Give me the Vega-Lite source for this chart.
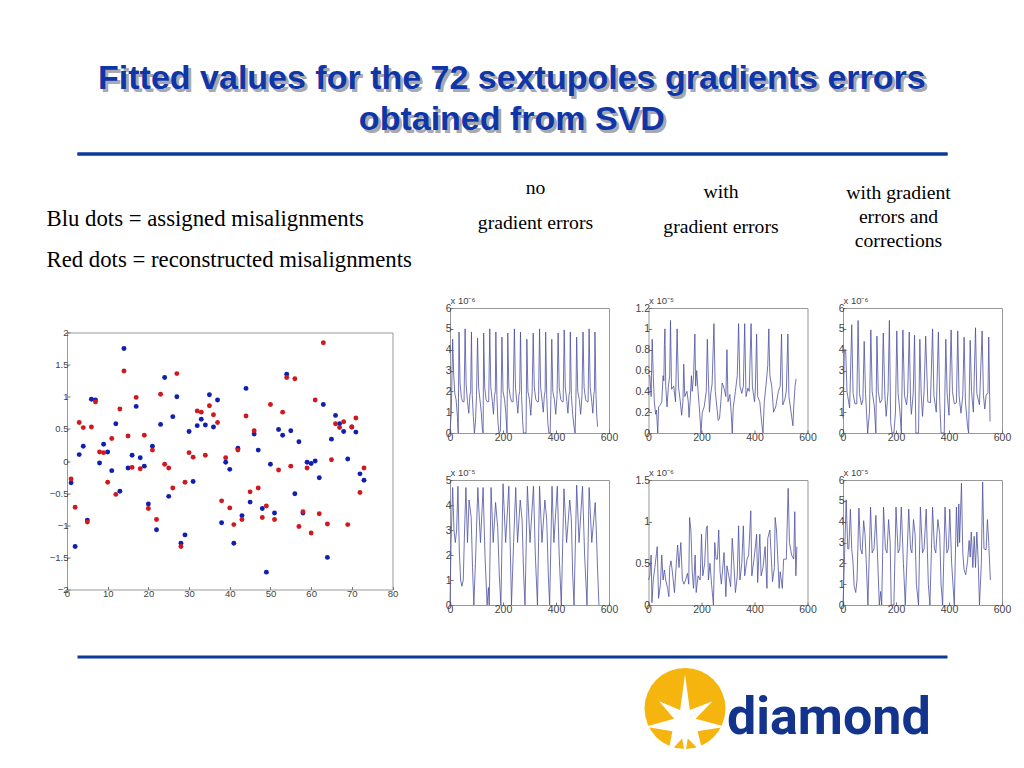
{"$schema":"https://vega.github.io/schema/vega-lite/v6.json","background":"white","padding":{"left":46,"top":61.5,"right":0,"bottom":0},"spacing":40,
"title":{"text":["Fitted values for the 72 sextupoles gradients errors","obtained from SVD"],"anchor":"middle","align":"center","dx":-17,"fontSize":34,"font":"Liberation Sans","fontWeight":"bold","color":"#0f36a8","lineHeight":41,"offset":-72},
"config":{"axis":{"grid":false,"domain":false,"tickSize":-3,"tickColor":"#777","labelColor":"#444","labelFont":"Liberation Sans","labelFontSize":10.5,"labelPadding":2,"labelFlush":false,"labelOverlap":false,"title":null,"format":"~f"},"view":{"stroke":"#999"},"title":{"font":"Liberation Serif","fontWeight":"normal","color":"#000","fontSize":19.7}},
"datasets":{
"dots":[{"i":1,"v":-0.34,"s":"assigned"},{"i":2,"v":-1.33,"s":"assigned"},{"i":3,"v":0.1,"s":"assigned"},{"i":4,"v":0.23,"s":"assigned"},{"i":5,"v":-0.92,"s":"assigned"},{"i":6,"v":0.96,"s":"assigned"},{"i":7,"v":0.95,"s":"assigned"},{"i":8,"v":-0.03,"s":"assigned"},{"i":9,"v":0.26,"s":"assigned"},{"i":10,"v":0.14,"s":"assigned"},{"i":11,"v":-0.15,"s":"assigned"},{"i":12,"v":0.58,"s":"assigned"},{"i":13,"v":-0.47,"s":"assigned"},{"i":14,"v":1.75,"s":"assigned"},{"i":15,"v":-0.11,"s":"assigned"},{"i":16,"v":0.09,"s":"assigned"},{"i":17,"v":0.85,"s":"assigned"},{"i":18,"v":0.05,"s":"assigned"},{"i":19,"v":-0.08,"s":"assigned"},{"i":20,"v":-0.67,"s":"assigned"},{"i":21,"v":0.23,"s":"assigned"},{"i":22,"v":-1.07,"s":"assigned"},{"i":23,"v":0.57,"s":"assigned"},{"i":24,"v":1.3,"s":"assigned"},{"i":25,"v":-0.55,"s":"assigned"},{"i":26,"v":0.69,"s":"assigned"},{"i":27,"v":1.0,"s":"assigned"},{"i":28,"v":-1.28,"s":"assigned"},{"i":29,"v":-1.15,"s":"assigned"},{"i":30,"v":0.46,"s":"assigned"},{"i":31,"v":-0.32,"s":"assigned"},{"i":32,"v":0.55,"s":"assigned"},{"i":33,"v":0.65,"s":"assigned"},{"i":34,"v":0.56,"s":"assigned"},{"i":35,"v":1.03,"s":"assigned"},{"i":36,"v":0.53,"s":"assigned"},{"i":37,"v":0.95,"s":"assigned"},{"i":38,"v":-0.96,"s":"assigned"},{"i":39,"v":-0.02,"s":"assigned"},{"i":40,"v":-0.13,"s":"assigned"},{"i":41,"v":-1.28,"s":"assigned"},{"i":42,"v":0.2,"s":"assigned"},{"i":43,"v":-0.85,"s":"assigned"},{"i":44,"v":1.13,"s":"assigned"},{"i":45,"v":-0.64,"s":"assigned"},{"i":46,"v":0.42,"s":"assigned"},{"i":47,"v":0.17,"s":"assigned"},{"i":48,"v":-0.74,"s":"assigned"},{"i":49,"v":-1.73,"s":"assigned"},{"i":50,"v":-0.05,"s":"assigned"},{"i":51,"v":-0.81,"s":"assigned"},{"i":52,"v":0.49,"s":"assigned"},{"i":53,"v":0.4,"s":"assigned"},{"i":54,"v":1.35,"s":"assigned"},{"i":55,"v":0.47,"s":"assigned"},{"i":56,"v":-0.51,"s":"assigned"},{"i":57,"v":0.3,"s":"assigned"},{"i":58,"v":-0.81,"s":"assigned"},{"i":59,"v":-0.02,"s":"assigned"},{"i":60,"v":-0.04,"s":"assigned"},{"i":61,"v":0,"s":"assigned"},{"i":62,"v":-0.26,"s":"assigned"},{"i":63,"v":0.88,"s":"assigned"},{"i":64,"v":-1.5,"s":"assigned"},{"i":65,"v":0.34,"s":"assigned"},{"i":66,"v":0.71,"s":"assigned"},{"i":67,"v":0.58,"s":"assigned"},{"i":68,"v":0.46,"s":"assigned"},{"i":69,"v":0.03,"s":"assigned"},{"i":70,"v":0.53,"s":"assigned"},{"i":71,"v":0.45,"s":"assigned"},{"i":72,"v":-0.2,"s":"assigned"},{"i":73,"v":-0.3,"s":"assigned"},
{"i":1,"v":-0.28,"s":"reconstructed"},{"i":2,"v":-0.72,"s":"reconstructed"},{"i":3,"v":0.6,"s":"reconstructed"},{"i":4,"v":0.52,"s":"reconstructed"},{"i":5,"v":-0.95,"s":"reconstructed"},{"i":6,"v":0.53,"s":"reconstructed"},{"i":7,"v":0.92,"s":"reconstructed"},{"i":8,"v":0.14,"s":"reconstructed"},{"i":9,"v":0.13,"s":"reconstructed"},{"i":10,"v":-0.33,"s":"reconstructed"},{"i":11,"v":0.35,"s":"reconstructed"},{"i":12,"v":-0.52,"s":"reconstructed"},{"i":13,"v":0.81,"s":"reconstructed"},{"i":14,"v":1.4,"s":"reconstructed"},{"i":15,"v":0.39,"s":"reconstructed"},{"i":16,"v":-0.1,"s":"reconstructed"},{"i":17,"v":0.99,"s":"reconstructed"},{"i":18,"v":-0.12,"s":"reconstructed"},{"i":19,"v":0.4,"s":"reconstructed"},{"i":20,"v":-0.74,"s":"reconstructed"},{"i":21,"v":0.17,"s":"reconstructed"},{"i":22,"v":-0.91,"s":"reconstructed"},{"i":23,"v":1.04,"s":"reconstructed"},{"i":24,"v":-0.05,"s":"reconstructed"},{"i":25,"v":-0.11,"s":"reconstructed"},{"i":26,"v":-0.42,"s":"reconstructed"},{"i":27,"v":1.36,"s":"reconstructed"},{"i":28,"v":-1.33,"s":"reconstructed"},{"i":29,"v":-0.33,"s":"reconstructed"},{"i":30,"v":0.13,"s":"reconstructed"},{"i":31,"v":0.06,"s":"reconstructed"},{"i":32,"v":0.78,"s":"reconstructed"},{"i":33,"v":0.76,"s":"reconstructed"},{"i":34,"v":0.09,"s":"reconstructed"},{"i":35,"v":0.86,"s":"reconstructed"},{"i":36,"v":0.72,"s":"reconstructed"},{"i":37,"v":0.6,"s":"reconstructed"},{"i":38,"v":-0.62,"s":"reconstructed"},{"i":39,"v":0.05,"s":"reconstructed"},{"i":40,"v":-0.73,"s":"reconstructed"},{"i":41,"v":-0.99,"s":"reconstructed"},{"i":42,"v":0.17,"s":"reconstructed"},{"i":43,"v":-0.91,"s":"reconstructed"},{"i":44,"v":0.7,"s":"reconstructed"},{"i":45,"v":-0.48,"s":"reconstructed"},{"i":46,"v":0.47,"s":"reconstructed"},{"i":47,"v":-0.42,"s":"reconstructed"},{"i":48,"v":-0.88,"s":"reconstructed"},{"i":49,"v":-0.7,"s":"reconstructed"},{"i":50,"v":0.88,"s":"reconstructed"},{"i":51,"v":-0.91,"s":"reconstructed"},{"i":52,"v":-0.14,"s":"reconstructed"},{"i":53,"v":0.76,"s":"reconstructed"},{"i":54,"v":1.3,"s":"reconstructed"},{"i":55,"v":-0.08,"s":"reconstructed"},{"i":56,"v":1.28,"s":"reconstructed"},{"i":57,"v":-1.02,"s":"reconstructed"},{"i":58,"v":-0.79,"s":"reconstructed"},{"i":59,"v":-0.11,"s":"reconstructed"},{"i":60,"v":-1.12,"s":"reconstructed"},{"i":61,"v":0.95,"s":"reconstructed"},{"i":62,"v":-0.82,"s":"reconstructed"},{"i":63,"v":1.84,"s":"reconstructed"},{"i":64,"v":-0.98,"s":"reconstructed"},{"i":65,"v":0.02,"s":"reconstructed"},{"i":66,"v":0.58,"s":"reconstructed"},{"i":67,"v":0.52,"s":"reconstructed"},{"i":68,"v":0.61,"s":"reconstructed"},{"i":69,"v":-0.99,"s":"reconstructed"},{"i":70,"v":0.53,"s":"reconstructed"},{"i":71,"v":0.67,"s":"reconstructed"},{"i":72,"v":-0.49,"s":"reconstructed"},{"i":73,"v":-0.11,"s":"reconstructed"}],
"a1":[{"x":0,"y":0},{"x":5,"y":1},{"x":10,"y":4.5},{"x":14,"y":2.8},{"x":18,"y":1.9},{"x":23,"y":1.6},{"x":28,"y":0.8},{"x":31,"y":0},{"x":34,"y":4.85},{"x":38,"y":2.4},{"x":43,"y":1.7},{"x":48,"y":1.5},{"x":53,"y":1.5},{"x":57,"y":5},{"x":61,"y":2.3},{"x":66,"y":1.5},{"x":71,"y":0.95},{"x":75,"y":1.8},{"x":78,"y":2},{"x":81,"y":4.85},{"x":84,"y":1.8},{"x":88,"y":0.8},{"x":92,"y":0},{"x":96,"y":0.5},{"x":100,"y":1.8},{"x":104,"y":4.55},{"x":108,"y":2.2},{"x":113,"y":1.6},{"x":118,"y":1},{"x":122,"y":0.2},{"x":125,"y":0},{"x":127,"y":4.8},{"x":131,"y":2.2},{"x":136,"y":1.6},{"x":141,"y":1.5},{"x":146,"y":1.5},{"x":150,"y":5},{"x":154,"y":2.2},{"x":160,"y":1.5},{"x":164,"y":0.9},{"x":168,"y":1.8},{"x":171,"y":2},{"x":173,"y":4.85},{"x":177,"y":1.8},{"x":181,"y":0.5},{"x":185,"y":0},{"x":190,"y":0.1},{"x":193,"y":1.8},{"x":196,"y":4.6},{"x":200,"y":2},{"x":206,"y":1.6},{"x":211,"y":0.9},{"x":215,"y":0},{"x":218,"y":4.8},{"x":222,"y":2.2},{"x":228,"y":1.7},{"x":233,"y":1.5},{"x":238,"y":1.5},{"x":243,"y":5},{"x":247,"y":2.2},{"x":252,"y":1.5},{"x":256,"y":0.95},{"x":260,"y":1.8},{"x":263,"y":2},{"x":266,"y":4.85},{"x":270,"y":1.8},{"x":274,"y":0.6},{"x":277,"y":0},{"x":287,"y":0},{"x":290,"y":4.5},{"x":294,"y":2},{"x":300,"y":1.6},{"x":305,"y":0.85},{"x":310,"y":2},{"x":314,"y":4.8},{"x":318,"y":2.2},{"x":324,"y":1.6},{"x":329,"y":1.5},{"x":334,"y":1.5},{"x":338,"y":5},{"x":342,"y":2.2},{"x":348,"y":1.5},{"x":352,"y":1},{"x":356,"y":1.8},{"x":359,"y":2},{"x":361,"y":4.85},{"x":365,"y":1.8},{"x":369,"y":0.5},{"x":373,"y":0},{"x":378,"y":0},{"x":381,"y":1.8},{"x":384,"y":4.5},{"x":388,"y":2},{"x":394,"y":1.6},{"x":399,"y":0.9},{"x":404,"y":1.8},{"x":408,"y":4.8},{"x":412,"y":2.2},{"x":418,"y":1.6},{"x":423,"y":1.5},{"x":427,"y":1.5},{"x":431,"y":4.95},{"x":435,"y":2.2},{"x":441,"y":1.5},{"x":445,"y":0.95},{"x":449,"y":1.8},{"x":452,"y":2},{"x":454,"y":4.85},{"x":458,"y":1.8},{"x":463,"y":0.9},{"x":468,"y":0.3},{"x":472,"y":0},{"x":475,"y":1.5},{"x":478,"y":4.6},{"x":482,"y":2},{"x":488,"y":1.6},{"x":493,"y":0.9},{"x":498,"y":1.8},{"x":502,"y":4.85},{"x":506,"y":2.2},{"x":512,"y":1.6},{"x":517,"y":1.5},{"x":521,"y":1.5},{"x":525,"y":5},{"x":529,"y":2.2},{"x":535,"y":1.5},{"x":539,"y":0.95},{"x":543,"y":1.9},{"x":545,"y":2},{"x":547,"y":4.85},{"x":551,"y":1.8},{"x":554,"y":0.8},{"x":557,"y":0.3}],
"a2":[{"x":0,"y":0},{"x":4,"y":2.5},{"x":10,"y":4.7},{"x":15,"y":3},{"x":20,"y":2.5},{"x":25,"y":3},{"x":30,"y":4.75},{"x":35,"y":2.2},{"x":40,"y":1},{"x":45,"y":0.75},{"x":50,"y":1},{"x":55,"y":3},{"x":60,"y":4.7},{"x":66,"y":2.5},{"x":72,"y":4.2},{"x":80,"y":3.5},{"x":85,"y":1.5},{"x":90,"y":0},{"x":97,"y":2},{"x":105,"y":4.7},{"x":115,"y":2.5},{"x":125,"y":4.7},{"x":132,"y":2},{"x":140,"y":0},{"x":145,"y":0.7},{"x":148,"y":0},{"x":155,"y":4.7},{"x":163,"y":2.5},{"x":172,"y":4.1},{"x":180,"y":3.1},{"x":186,"y":1.2},{"x":192,"y":0},{"x":200,"y":4.85},{"x":210,"y":2.5},{"x":222,"y":4.75},{"x":228,"y":2},{"x":232,"y":0},{"x":240,"y":2.5},{"x":248,"y":4.7},{"x":255,"y":2.5},{"x":265,"y":4.2},{"x":272,"y":3.4},{"x":278,"y":1.2},{"x":283,"y":0},{"x":292,"y":4.75},{"x":302,"y":2.5},{"x":315,"y":4.75},{"x":322,"y":2},{"x":330,"y":0},{"x":338,"y":4.75},{"x":347,"y":2.5},{"x":358,"y":4.2},{"x":365,"y":3.4},{"x":371,"y":1.2},{"x":376,"y":0},{"x":385,"y":4.75},{"x":392,"y":2.5},{"x":405,"y":4.75},{"x":412,"y":2},{"x":420,"y":0},{"x":430,"y":4.65},{"x":440,"y":2.5},{"x":452,"y":4.2},{"x":458,"y":3.4},{"x":463,"y":1.2},{"x":468,"y":0},{"x":478,"y":4.8},{"x":487,"y":2.5},{"x":500,"y":4.75},{"x":508,"y":2},{"x":517,"y":0},{"x":525,"y":4.7},{"x":535,"y":2.5},{"x":548,"y":4.1},{"x":552,"y":3},{"x":557,"y":1.4},{"x":562,"y":0}],
"b1":[{"x":0,"y":0.55},{"x":5,"y":0.55},{"x":10,"y":0.35},{"x":14,"y":0.9},{"x":18,"y":0.55},{"x":22,"y":0.3},{"x":27,"y":0.18},{"x":30,"y":0.22},{"x":35,"y":0},{"x":38,"y":0.25},{"x":45,"y":0.27},{"x":50,"y":0.3},{"x":55,"y":0.55},{"x":58,"y":0.5},{"x":60,"y":0.85},{"x":62,"y":1},{"x":65,"y":0.45},{"x":70,"y":0.25},{"x":75,"y":0.45},{"x":80,"y":0.55},{"x":83,"y":1.08},{"x":87,"y":0.42},{"x":95,"y":0.45},{"x":102,"y":0.3},{"x":108,"y":1},{"x":113,"y":0.45},{"x":120,"y":0.3},{"x":125,"y":0.17},{"x":130,"y":0.3},{"x":133,"y":0.66},{"x":137,"y":0.35},{"x":145,"y":0.4},{"x":150,"y":0.3},{"x":153,"y":0.15},{"x":157,"y":0.3},{"x":162,"y":0.55},{"x":165,"y":0.4},{"x":170,"y":0.55},{"x":175,"y":0.95},{"x":178,"y":0.45},{"x":182,"y":0.6},{"x":187,"y":0.4},{"x":193,"y":0.2},{"x":198,"y":0},{"x":203,"y":0.2},{"x":210,"y":0.25},{"x":218,"y":0.4},{"x":222,"y":0.9},{"x":225,"y":0.6},{"x":230,"y":0.2},{"x":235,"y":0.38},{"x":240,"y":0.47},{"x":247,"y":1.05},{"x":252,"y":0.4},{"x":258,"y":0.25},{"x":263,"y":0.12},{"x":268,"y":0.14},{"x":273,"y":0.3},{"x":278,"y":0.48},{"x":285,"y":0.43},{"x":292,"y":0.35},{"x":296,"y":0.8},{"x":300,"y":0.3},{"x":307,"y":0.37},{"x":312,"y":0.2},{"x":316,"y":0},{"x":320,"y":0.25},{"x":328,"y":0.4},{"x":335,"y":0.55},{"x":340,"y":1.05},{"x":345,"y":0.45},{"x":352,"y":0.38},{"x":358,"y":0.45},{"x":363,"y":1.05},{"x":368,"y":0.35},{"x":375,"y":0.43},{"x":380,"y":0.4},{"x":387,"y":1.05},{"x":392,"y":0.45},{"x":400,"y":0.3},{"x":403,"y":0.4},{"x":408,"y":0.95},{"x":412,"y":0.35},{"x":420,"y":0.3},{"x":427,"y":0.1},{"x":432,"y":0},{"x":437,"y":0.3},{"x":445,"y":0.5},{"x":450,"y":0.65},{"x":454,"y":1},{"x":458,"y":0.55},{"x":465,"y":0.45},{"x":472,"y":0.2},{"x":480,"y":0.25},{"x":490,"y":0.4},{"x":497,"y":0.45},{"x":502,"y":0.95},{"x":507,"y":0.27},{"x":515,"y":0.33},{"x":520,"y":0.4},{"x":526,"y":0.95},{"x":530,"y":0.35},{"x":538,"y":0.2},{"x":545,"y":0.07},{"x":548,"y":0.25},{"x":553,"y":0.45},{"x":557,"y":0.52}],
"b2":[{"x":0,"y":0.3},{"x":5,"y":0.35},{"x":10,"y":0.6},{"x":13,"y":0.03},{"x":18,"y":0.3},{"x":24,"y":0.45},{"x":30,"y":0.62},{"x":33,"y":0.7},{"x":38,"y":0.08},{"x":45,"y":0.25},{"x":50,"y":0.6},{"x":55,"y":0.3},{"x":60,"y":0.42},{"x":65,"y":0.3},{"x":72,"y":0.2},{"x":77,"y":0.1},{"x":80,"y":0.45},{"x":85,"y":0.53},{"x":90,"y":0.4},{"x":98,"y":0.15},{"x":105,"y":0.5},{"x":110,"y":0.72},{"x":115,"y":0.45},{"x":122,"y":0.75},{"x":128,"y":0.3},{"x":134,"y":0.25},{"x":140,"y":0.3},{"x":147,"y":0.38},{"x":152,"y":0.25},{"x":155,"y":1.05},{"x":160,"y":0.9},{"x":165,"y":0.4},{"x":170,"y":0.2},{"x":176,"y":0.6},{"x":180,"y":0.15},{"x":187,"y":0.35},{"x":195,"y":0.3},{"x":200,"y":0.85},{"x":205,"y":0.35},{"x":212,"y":0.5},{"x":218,"y":0.92},{"x":222,"y":0.95},{"x":226,"y":0.3},{"x":232,"y":0.5},{"x":238,"y":0.25},{"x":245,"y":0},{"x":250,"y":0.75},{"x":255,"y":0.55},{"x":260,"y":0.55},{"x":265,"y":0.9},{"x":270,"y":0.4},{"x":275,"y":0.25},{"x":285,"y":0.63},{"x":292,"y":0.1},{"x":296,"y":0.47},{"x":303,"y":0.35},{"x":310,"y":0.22},{"x":316,"y":0.8},{"x":322,"y":0.5},{"x":328,"y":0.15},{"x":335,"y":0.35},{"x":340,"y":0.95},{"x":345,"y":0.3},{"x":352,"y":0.5},{"x":358,"y":0.95},{"x":363,"y":0.35},{"x":372,"y":0.55},{"x":378,"y":0.6},{"x":386,"y":1.13},{"x":390,"y":0.35},{"x":398,"y":0.55},{"x":404,"y":0.72},{"x":408,"y":0.85},{"x":412,"y":0.27},{"x":420,"y":0.85},{"x":425,"y":0.35},{"x":432,"y":0.45},{"x":440,"y":0.7},{"x":447,"y":0.2},{"x":450,"y":0.8},{"x":458,"y":0.9},{"x":462,"y":0.65},{"x":468,"y":0.28},{"x":475,"y":0.45},{"x":478,"y":1.05},{"x":483,"y":0.9},{"x":488,"y":0.55},{"x":493,"y":0.2},{"x":497,"y":0.4},{"x":505,"y":0.2},{"x":510,"y":0.55},{"x":520,"y":0.55},{"x":527,"y":1.4},{"x":532,"y":0.75},{"x":540,"y":0.6},{"x":548,"y":0.55},{"x":552,"y":1.12},{"x":556,"y":0.35},{"x":560,"y":0.7}],
"c1":[{"x":0,"y":0.7},{"x":5,"y":4},{"x":10,"y":4},{"x":15,"y":2},{"x":25,"y":1.2},{"x":33,"y":5.2},{"x":38,"y":1.9},{"x":45,"y":1.4},{"x":52,"y":1.4},{"x":57,"y":5.4},{"x":62,"y":1.9},{"x":70,"y":1.35},{"x":75,"y":1.6},{"x":80,"y":4.4},{"x":85,"y":1.9},{"x":93,"y":0},{"x":100,"y":1},{"x":105,"y":4.95},{"x":110,"y":2},{"x":118,"y":1.3},{"x":124,"y":0},{"x":128,"y":4.65},{"x":133,"y":2},{"x":140,"y":1.45},{"x":147,"y":1.6},{"x":152,"y":4.8},{"x":158,"y":1.8},{"x":163,"y":0.8},{"x":170,"y":2},{"x":175,"y":5.4},{"x":180,"y":0.5},{"x":185,"y":0},{"x":192,"y":0},{"x":198,"y":1},{"x":203,"y":4.9},{"x":208,"y":1.9},{"x":215,"y":1},{"x":220,"y":0},{"x":226,"y":4.95},{"x":232,"y":1.8},{"x":240,"y":1.35},{"x":244,"y":1.9},{"x":250,"y":4.85},{"x":255,"y":1.5},{"x":258,"y":0.9},{"x":265,"y":1.9},{"x":270,"y":4.7},{"x":275,"y":0},{"x":285,"y":0},{"x":290,"y":4.5},{"x":295,"y":1.9},{"x":300,"y":0.8},{"x":306,"y":2},{"x":312,"y":4.65},{"x":320,"y":1.5},{"x":330,"y":1.45},{"x":338,"y":5},{"x":343,"y":1.8},{"x":352,"y":1},{"x":360,"y":4.85},{"x":365,"y":1.5},{"x":370,"y":0},{"x":382,"y":0},{"x":388,"y":4.5},{"x":393,"y":1.9},{"x":400,"y":0.85},{"x":408,"y":4.95},{"x":413,"y":2},{"x":420,"y":1.4},{"x":428,"y":1.45},{"x":433,"y":4.9},{"x":438,"y":1.8},{"x":445,"y":0.95},{"x":452,"y":1.8},{"x":457,"y":4.6},{"x":462,"y":1.5},{"x":470,"y":0.3},{"x":474,"y":0},{"x":480,"y":4.45},{"x":485,"y":2},{"x":492,"y":1},{"x":500,"y":5.05},{"x":505,"y":1.9},{"x":515,"y":1.35},{"x":525,"y":4.9},{"x":530,"y":1.8},{"x":535,"y":1.15},{"x":540,"y":1.8},{"x":547,"y":1.95},{"x":550,"y":4.6},{"x":555,"y":0.55}],
"c2":[{"x":0,"y":0},{"x":5,"y":2},{"x":12,"y":5.05},{"x":18,"y":2.7},{"x":22,"y":2.7},{"x":28,"y":4.6},{"x":33,"y":2.7},{"x":38,"y":2},{"x":42,"y":0.9},{"x":48,"y":0.6},{"x":53,"y":1.2},{"x":60,"y":4.65},{"x":66,"y":2.7},{"x":72,"y":2.45},{"x":78,"y":4.05},{"x":83,"y":3.4},{"x":88,"y":2},{"x":94,"y":0},{"x":104,"y":4.7},{"x":110,"y":2.5},{"x":117,"y":2.7},{"x":124,"y":4.3},{"x":130,"y":2.5},{"x":137,"y":0},{"x":142,"y":0.65},{"x":146,"y":0},{"x":153,"y":4.7},{"x":160,"y":2.7},{"x":166,"y":2.5},{"x":172,"y":4.1},{"x":178,"y":3},{"x":182,"y":0},{"x":192,"y":0},{"x":200,"y":4.7},{"x":208,"y":2.5},{"x":214,"y":2.7},{"x":220,"y":4.7},{"x":228,"y":2},{"x":235,"y":0},{"x":248,"y":4.6},{"x":255,"y":2.7},{"x":260,"y":2.5},{"x":266,"y":4.1},{"x":272,"y":3.4},{"x":277,"y":1},{"x":285,"y":0},{"x":292,"y":4.7},{"x":300,"y":2.5},{"x":306,"y":2.7},{"x":314,"y":4.6},{"x":322,"y":1},{"x":328,"y":0},{"x":338,"y":4.7},{"x":345,"y":2.7},{"x":350,"y":2.5},{"x":358,"y":4.1},{"x":365,"y":3.4},{"x":370,"y":1},{"x":376,"y":0},{"x":385,"y":4.7},{"x":392,"y":2.5},{"x":398,"y":2.7},{"x":403,"y":4.6},{"x":410,"y":2},{"x":420,"y":0},{"x":428,"y":4.7},{"x":433,"y":2.8},{"x":437,"y":4.85},{"x":440,"y":3},{"x":447,"y":5.85},{"x":452,"y":2.5},{"x":457,"y":1.7},{"x":463,"y":1.45},{"x":470,"y":2.1},{"x":476,"y":3.1},{"x":480,"y":2.3},{"x":484,"y":3.5},{"x":490,"y":1.8},{"x":495,"y":3.3},{"x":500,"y":1.8},{"x":505,"y":3.5},{"x":510,"y":2.2},{"x":515,"y":0},{"x":522,"y":2},{"x":527,"y":5.9},{"x":532,"y":2.7},{"x":540,"y":2.65},{"x":545,"y":4.1},{"x":550,"y":3},{"x":556,"y":1.2}]
},
"vconcat":[
{"spacing":21.5,"vconcat":[
{"width":936,"height":3,"view":{"stroke":null},"data":{"values":[{"heading":"Fitted values for the 72 sextupoles gradients errors"},{"heading":"obtained from SVD"}]},"layer":[
{"mark":{"type":"rule","color":"#0b3a9a","strokeWidth":3},"encoding":{"x":{"datum":10.5,"scale":{"domain":[0,936]},"axis":null},"x2":{"datum":880.5},"y":{"datum":1.5,"scale":{"domain":[0,3]},"axis":null}}},
{"mark":{"type":"text","font":"Liberation Sans","fontWeight":"bold","fontSize":34,"color":"#a8a8b0","align":"center","dx":2,"dy":2,"lineHeight":41,"text":["Fitted values for the 72 sextupoles gradients errors","obtained from SVD"]},"encoding":{"x":{"datum":445.5,"scale":{"domain":[0,936]},"axis":null},"y":{"datum":76,"scale":{"domain":[0,3]},"axis":null}}}
]},
{"spacing":32,"hconcat":[
{"bounds":"flush","spacing":23.5,"vconcat":[
{"width":325.5,"height":1,"view":{"stroke":null},"data":{"values":[{}]},"mark":{"type":"rule","opacity":0},"encoding":{},"title":{"text":["Blu dots = assigned misalignments","Red dots = reconstructed misalignments"],"anchor":"start","dx":-20,"offset":35.5,"lineHeight":41,"fontSize":22.75}},
{"width":325.5,"height":257,"data":{"name":"dots"},"mark":{"type":"point","filled":true,"opacity":1,"size":24},"encoding":{"x":{"field":"i","type":"quantitative","scale":{"domain":[0,80],"nice":false},"axis":{"values":[0,10,20,30,40,50,60,70,80],"labelFontSize":9.5}},"y":{"field":"v","type":"quantitative","scale":{"domain":[-2,2],"nice":false},"axis":{"values":[-2,-1.5,-1,-0.5,0,0.5,1,1.5,2],"labelFontSize":9.5}},"color":{"field":"s","type":"nominal","legend":null,"sort":["assigned","reconstructed"],"scale":{"domain":["assigned","reconstructed"],"range":["#0f1fb0","#d0181f"]}}}}
]},
{"spacing":20,"hconcat":[
{"spacing":14.5,"hconcat":[
{"bounds":"flush","spacing":47,"vconcat":[
{"width":159,"height":125,"title":{"text":["no","gradient errors"],"dx":6,"offset":62.5,"lineHeight":35},"data":{"name":"a1"},"mark":{"type":"line","color":"#4d519f","strokeWidth":0.8},"encoding":{"x":{"field":"x","type":"quantitative","scale":{"domain":[0,600],"nice":false},"axis":{"values":[0,200,400,600]}},"y":{"field":"y","type":"quantitative","scale":{"domain":[0,6],"nice":false},"axis":{"values":[0,1,2,3,4,5,6],"title":"x 10⁻⁶","titleAngle":0,"titleX":0,"titleY":-3,"titleAlign":"left","titleFontSize":9.5,"titleFontWeight":"normal","titleColor":"#444"}}}},
{"width":159,"height":125,"data":{"name":"a2"},"mark":{"type":"line","color":"#4d519f","strokeWidth":0.8},"encoding":{"x":{"field":"x","type":"quantitative","scale":{"domain":[0,600],"nice":false},"axis":{"values":[0,200,400,600]}},"y":{"field":"y","type":"quantitative","scale":{"domain":[0,5],"nice":false},"axis":{"values":[0,1,2,3,4,5],"title":"x 10⁻⁵","titleAngle":0,"titleX":0,"titleY":-3,"titleAlign":"left","titleFontSize":9.5,"titleFontWeight":"normal","titleColor":"#444"}}}}
]},
{"bounds":"flush","spacing":47,"vconcat":[
{"width":159,"height":125,"title":{"text":["with","gradient errors"],"dx":-7,"offset":58.5,"lineHeight":35},"data":{"name":"b1"},"mark":{"type":"line","color":"#4d519f","strokeWidth":0.8},"encoding":{"x":{"field":"x","type":"quantitative","scale":{"domain":[0,600],"nice":false},"axis":{"values":[0,200,400,600]}},"y":{"field":"y","type":"quantitative","scale":{"domain":[0,1.2],"nice":false},"axis":{"values":[0,0.2,0.4,0.6,0.8,1,1.2],"title":"x 10⁻⁵","titleAngle":0,"titleX":0,"titleY":-3,"titleAlign":"left","titleFontSize":9.5,"titleFontWeight":"normal","titleColor":"#444"}}}},
{"width":159,"height":125,"data":{"name":"b2"},"mark":{"type":"line","color":"#4d519f","strokeWidth":0.8},"encoding":{"x":{"field":"x","type":"quantitative","scale":{"domain":[0,600],"nice":false},"axis":{"values":[0,200,400,600]}},"y":{"field":"y","type":"quantitative","scale":{"domain":[0,1.5],"nice":false},"axis":{"values":[0,0.5,1,1.5],"title":"x 10⁻⁶","titleAngle":0,"titleX":0,"titleY":-3,"titleAlign":"left","titleFontSize":9.5,"titleFontWeight":"normal","titleColor":"#444"}}}}
]}
]},
{"bounds":"flush","spacing":47,"vconcat":[
{"width":159,"height":125,"title":{"text":["with gradient","errors and","corrections"],"dx":-24,"offset":44.5,"lineHeight":24},"data":{"name":"c1"},"mark":{"type":"line","color":"#4d519f","strokeWidth":0.8},"encoding":{"x":{"field":"x","type":"quantitative","scale":{"domain":[0,600],"nice":false},"axis":{"values":[0,200,400,600]}},"y":{"field":"y","type":"quantitative","scale":{"domain":[0,6],"nice":false},"axis":{"values":[0,1,2,3,4,5,6],"title":"x 10⁻⁶","titleAngle":0,"titleX":0,"titleY":-3,"titleAlign":"left","titleFontSize":9.5,"titleFontWeight":"normal","titleColor":"#444"}}}},
{"width":159,"height":125,"data":{"name":"c2"},"mark":{"type":"line","color":"#4d519f","strokeWidth":0.8},"encoding":{"x":{"field":"x","type":"quantitative","scale":{"domain":[0,600],"nice":false},"axis":{"values":[0,200,400,600]}},"y":{"field":"y","type":"quantitative","scale":{"domain":[0,6],"nice":false},"axis":{"values":[0,1,2,3,4,5,6],"title":"x 10⁻⁵","titleAngle":0,"titleX":0,"titleY":-3,"titleAlign":"left","titleFontSize":9.5,"titleFontWeight":"normal","titleColor":"#444"}}}}
]}
]}
]}
]},
{"width":936,"height":96,"view":{"stroke":null},"data":{"values":[{"brand":"diamond"}]},"layer":[
{"mark":{"type":"rule","color":"#0b3a9a","strokeWidth":3},"encoding":{"x":{"datum":10.5,"scale":{"domain":[0,936]},"axis":null},"x2":{"datum":880.5},"y":{"datum":1.5,"scale":{"domain":[96,0]},"axis":null}}},
{"mark":{"type":"point","shape":"circle","filled":true,"opacity":1,"color":"#f6b40e","size":6561},"encoding":{"x":{"datum":618,"scale":{"domain":[0,936]},"axis":null},"y":{"datum":53,"scale":{"domain":[96,0]},"axis":null}}},
{"mark":{"type":"point","shape":"M0,-.84L.12,.04L.68,-.18L.26,.25L1,.45L.31,.56L.45,1.12L.07,.74L0,1.15L-.07,.74L-.42,1.12L-.31,.56L-.98,.45L-.27,.25L-.64,-.18L-.12,.04Z","filled":true,"opacity":1,"color":"#ffffff","size":6561},"encoding":{"x":{"datum":618,"scale":{"domain":[0,936]},"axis":null},"y":{"datum":53,"scale":{"domain":[96,0]},"axis":null}}},
{"mark":{"type":"text","font":"Roboto","fontWeight":"bold","fontSize":52,"color":"#12348c","align":"left","baseline":"alphabetic"},"encoding":{"text":{"field":"brand"},"x":{"datum":660,"scale":{"domain":[0,936]},"axis":null},"y":{"datum":78,"scale":{"domain":[96,0]},"axis":null}}}
]}
]}
